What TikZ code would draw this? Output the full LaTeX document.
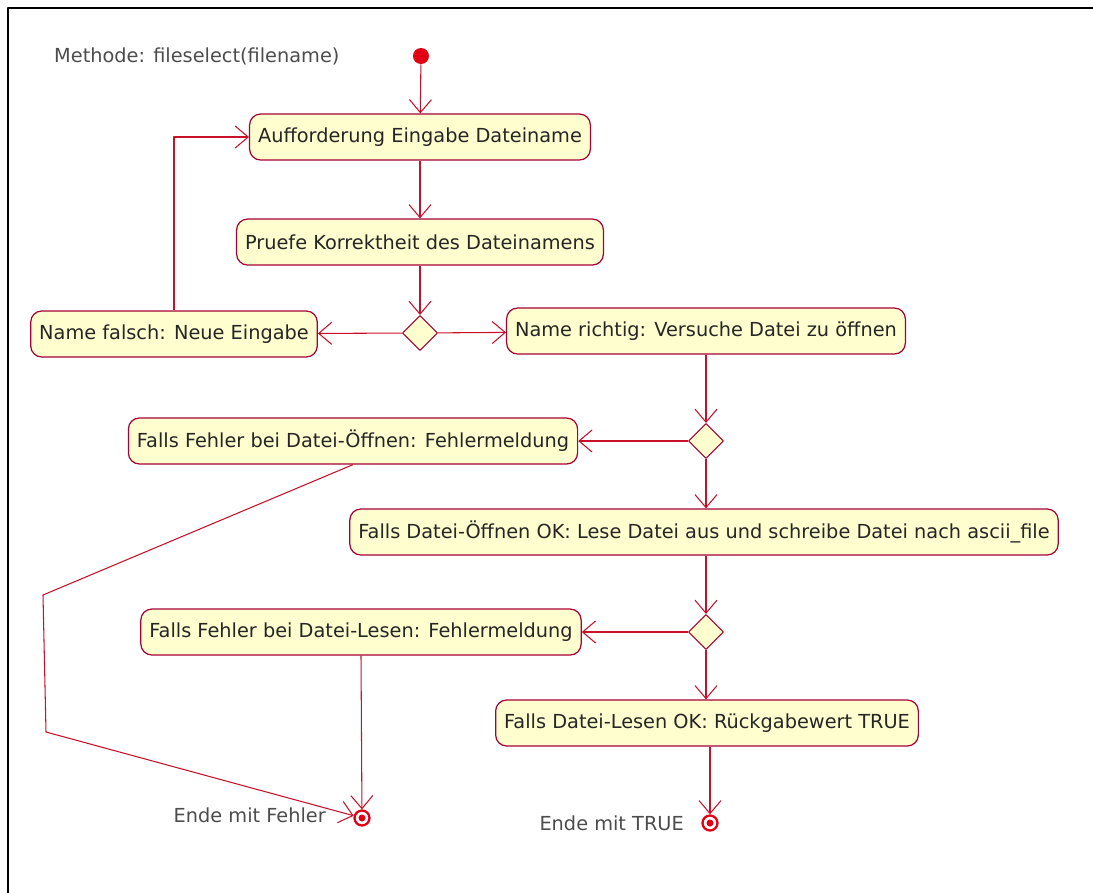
\documentclass[tikz,border=0pt]{standalone}
\usepackage{fontspec}
\setmainfont{DejaVu Sans}
\usetikzlibrary{arrows.meta, shapes.geometric}
\definecolor{umlred}{RGB}{200,16,40}
\definecolor{umlfill}{RGB}{254,254,206}
\definecolor{umlborder}{RGB}{168,0,54}
\definecolor{umlstart}{RGB}{225,0,20}

\begin{document}
\begin{tikzpicture}[x=0.02cm, y=-0.02cm, >={Straight Barb[length=0.26cm, width=0.44cm]},
	line join=round, font=\fontsize{11}{13}\selectfont,
	act/.style={draw=umlborder, fill=umlfill, rounded corners=0.22cm, line width=0.7pt,
		minimum height=0.92cm, inner xsep=0.17cm, text=black!85},
	dec/.style={draw=umlborder, fill=umlfill, diamond, minimum size=0.7cm, inner sep=0pt, line width=0.6pt},
	flow/.style={->, draw=umlred, line width=0.6pt},
	startdot/.style={circle, fill=umlstart, minimum size=0.32cm, inner sep=0pt},
	enddot/.style={circle, draw=umlstart, fill=white, line width=1.3pt, minimum size=0.3cm, inner sep=0pt,
		path picture={\fill[umlstart] (path picture bounding box.center) circle (0.07cm);}},
	lbl/.style={text=black!70}]
\useasboundingbox (0,0) rectangle (1093,893);
% frame
\draw[line width=1.2pt] (8,893) -- (8,8) -- (1093,8);

\node[lbl, anchor=west] (title) at (48,56) {Methode: fileselect(filename)};
\node[startdot] (start) at (421,56) {};

%========================
% activities
%========================
\node[act] (ask)   at (420,137) {Aufforderung Eingabe Dateiname};
\node[act] (check) at (420,242) {Pruefe Korrektheit des Dateinamens};
\node[dec] (d1)    at (420,333) {};
\node[act] (wrong) at (174,334) {Name falsch: Neue Eingabe};
\node[act] (open)  at (706,331) {Name richtig: Versuche Datei zu öffnen};

\node[dec] (d2)      at (706,441) {};
\node[act] (openerr) at (353,441) {Falls Fehler bei Datei-Öffnen: Fehlermeldung};
\node[act] (read)    at (704,532) {Falls Datei-Öffnen OK: Lese Datei aus und schreibe Datei nach ascii\_file};

\node[dec] (d3)      at (706,632) {};
\node[act] (readerr) at (361,632) {Falls Fehler bei Datei-Lesen: Fehlermeldung};
\node[act] (ok)      at (707,723) {Falls Datei-Lesen OK: Rückgabewert TRUE};

% end states
\node[enddot] (endf) at (362,818) {};
\node[lbl, anchor=east] (endflbl) at (332,815) {Ende mit Fehler};
\node[enddot] (endt) at (710,823) {};
\node[lbl, anchor=east] (endtlbl) at (690,823) {Ende mit TRUE};

%========================
% flows
%========================
\draw[flow] (start) -- (ask);
\draw[flow] (ask) -- (check);
\draw[flow] (check) -- (d1);
\draw[flow] (d1) -- (wrong);
\draw[flow] (d1) -- (open);
\draw[flow] (wrong.north) |- (ask.west);
\draw[flow] (open) -- (d2);
\draw[flow] (d2) -- (openerr);
\draw[flow] (d2) -- (d2 |- read.north);
\draw[flow] (d2 |- read.south) -- (d3);
\draw[flow] (d3) -- (readerr);
\draw[flow] (d3) -- (d3 |- ok.north);
% error paths
\coordinate (k1) at (43,595);
\coordinate (k2) at (46,732);
\draw[flow] (openerr.south) -- (k1) -- (k2) -- (endf);
\draw[flow] (readerr.south) -- (endf);
\draw[flow] (ok.south -| endt) -- (endt);
\end{tikzpicture}
\end{document}
